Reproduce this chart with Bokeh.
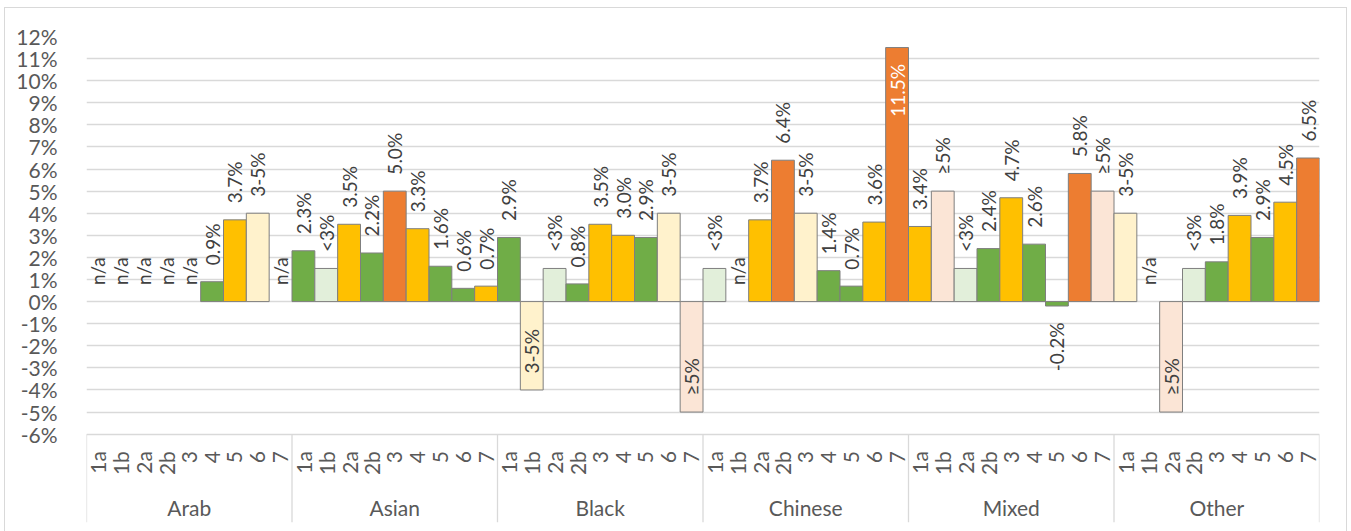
import math

from bokeh.core.properties import value
from bokeh.embed import file_html
from bokeh.models import (ColumnDataSource, FactorRange, FixedTicker,
                          PrintfTickFormatter, Range1d)
from bokeh.plotting import figure
from bokeh.resources import INLINE

# ---- data -------------------------------------------------------------
groups = ["Arab", "Asian", "Black", "Chinese", "Mixed", "Other"]
subs = ["1a", "1b", "2a", "2b", "3", "4", "5", "6", "7"]

# value per sub-category (None = n/a); suppressed bands carry a placeholder height
arab_vals = [None, None, None, None, None, 0.9, 3.7, 4.0, None]
asian_vals = [2.3, 1.5, 3.5, 2.2, 5.0, 3.3, 1.6, 0.6, 0.7]
black_vals = [2.9, -4.0, 1.5, 0.8, 3.5, 3.0, 2.9, 4.0, -5.0]
chinese_vals = [1.5, None, 3.7, 6.4, 4.0, 1.4, 0.7, 3.6, 11.5]
mixed_vals = [3.4, 5.0, 1.5, 2.4, 4.7, 2.6, -0.2, 5.8, 5.0]
other_vals = [4.0, None, -5.0, 1.5, 1.8, 3.9, 2.9, 4.5, 6.5]

# band of each value; "_s" marks a suppressed figure shown only as a range
arab_band = [None, None, None, None, None, "low", "mid", "mid_s", None]
asian_band = ["low", "low_s", "mid", "low", "high", "mid", "low", "low", "mid"]
black_band = ["low", "mid_s", "low_s", "low", "mid", "mid", "low", "mid_s", "high_s"]
chinese_band = ["low_s", None, "mid", "high", "mid_s", "low", "low", "mid", "high"]
mixed_band = ["mid", "high_s", "low_s", "low", "mid", "low", "low", "high", "high_s"]
other_band = ["mid_s", None, "high_s", "low_s", "low", "mid", "low", "mid", "high"]

range_text = {"low_s": "<3%", "mid_s": "3-5%", "high_s": "\u22655%"}

y_ticks = list(range(-6, 13))

# ---- styling ----------------------------------------------------------
band_colors = {
    "low": "#70AD47", "low_s": "#E2EFDA",
    "mid": "#FFC000", "mid_s": "#FFF2CC",
    "high": "#ED7D31", "high_s": "#FBE5D6",
}
FONT = "Lato"
AXIS_TEXT = "#595959"
LABEL_TEXT = "#404040"
GRID = "#D9D9D9"

# the chart sits in a bordered box offset slightly from the page corner
OFF_X, OFF_Y = 4, 7
W, H = 1343, 526
LEFT, RIGHT, TOP, BOTTOM = 81, 29, 28, 12
Y0, Y1 = -10, 12
PPU = (H - TOP - BOTTOM) / (Y1 - Y0)      # pixels per percentage point
GAP = 16.5 / PPU                          # label distance from the bar end
CHAR = 10.8 / PPU                         # rough label length per character

all_vals = [arab_vals, asian_vals, black_vals, chinese_vals, mixed_vals, other_vals]
all_bands = [arab_band, asian_band, black_band, chinese_band, mixed_band, other_band]

bars = dict(x=[], top=[], color=[])
lab_up = dict(x=[], y=[], text=[], color=[])     # text starts at anchor
lab_down = dict(x=[], y=[], text=[], color=[])   # text ends at anchor

for g, vals, bands in zip(groups, all_vals, all_bands):
    for s, v, b in zip(subs, vals, bands):
        key = (g, s)
        if v is None:
            lab_up["x"].append(key)
            lab_up["y"].append(GAP)
            lab_up["text"].append("n/a")
            lab_up["color"].append(LABEL_TEXT)
            continue
        bars["x"].append(key)
        bars["top"].append(v)
        bars["color"].append(band_colors[b])
        txt = range_text.get(b, f"{v:.1f}%")
        length = len(txt) * CHAR
        if v >= 0:
            if v + GAP + length <= Y1:
                lab_up["x"].append(key); lab_up["y"].append(v + GAP)
                lab_up["text"].append(txt); lab_up["color"].append(LABEL_TEXT)
            else:
                lab_down["x"].append(key); lab_down["y"].append(v - GAP)
                lab_down["text"].append(txt); lab_down["color"].append("white")
        else:
            if v - GAP - length >= y_ticks[0]:
                lab_down["x"].append(key); lab_down["y"].append(v - GAP)
                lab_down["text"].append(txt); lab_down["color"].append(LABEL_TEXT)
            else:
                lab_up["x"].append(key); lab_up["y"].append(v + GAP)
                lab_up["text"].append(txt); lab_up["color"].append(LABEL_TEXT)

factors = [(g, s) for g in groups for s in subs]

p = figure(
    width=W, height=H,
    x_range=FactorRange(factors=factors, factor_padding=0, group_padding=0,
                        subgroup_padding=0, range_padding=0),
    y_range=Range1d(Y0, Y1),
    x_axis_location=None,
    output_backend="svg", toolbar_location=None,
    min_border_left=LEFT, min_border_right=RIGHT,
    min_border_top=TOP, min_border_bottom=BOTTOM,
)
p.margin = (OFF_Y, 0, 0, OFF_X)
p.styles = {"border": f"1px solid {GRID}"}
p.outline_line_color = None
p.background_fill_color = "white"
p.border_fill_color = "white"

# value axis
p.yaxis.ticker = FixedTicker(ticks=y_ticks)
p.yaxis.formatter = PrintfTickFormatter(format="%d%%")
p.yaxis.axis_line_color = None
p.yaxis.major_tick_line_color = None
p.yaxis.minor_tick_line_color = None
p.yaxis.major_label_standoff = 23
p.yaxis.major_label_text_font = FONT
p.yaxis.major_label_text_font_size = "21px"
p.yaxis.major_label_text_color = AXIS_TEXT
p.xgrid.visible = False
p.ygrid.ticker = FixedTicker(ticks=y_ticks)
p.ygrid.grid_line_color = GRID
p.ygrid.grid_line_width = 1.3

# bars
p.vbar(x="x", top="top", bottom=0, width=1.0, source=ColumnDataSource(bars),
       fill_color="color", line_color="#7F7F7F", line_width=1)

# value labels
label_kw = dict(angle=math.pi / 2, text_baseline="middle",
                text_font=value(FONT), text_font_size="19px", text_color="color")
p.text(x="x", y="y", text="text", text_align="left",
       source=ColumnDataSource(lab_up), **label_kw)
p.text(x="x", y="y", text="text", text_align="right",
       source=ColumnDataSource(lab_down), **label_kw)

# category axis: sub-category labels, group labels and box lines
axis_y = y_ticks[0]
p.text(x=factors, y=[axis_y - 17 / PPU] * len(factors), text=[s for g in groups for s in subs],
       angle=math.pi / 2, text_align="right", text_baseline="middle",
       text_font=value(FONT), text_font_size="21px", text_color=AXIS_TEXT)
p.text(x=[(g, subs[len(subs) // 2]) for g in groups],
       y=[axis_y - 73.4 / PPU] * len(groups), text=groups,
       text_align="center", text_baseline="middle",
       text_font=value(FONT), text_font_size="21px", text_color=AXIS_TEXT)
sep_x = [(g, subs[0], -0.5) for g in groups] + [(groups[-1], subs[-1], 0.5)]
p.segment(x0=sep_x, x1=sep_x, y0=[axis_y] * len(sep_x), y1=[Y0] * len(sep_x),
          line_color=GRID, line_width=1.3)

open("out.html", "w").write(file_html(p, INLINE))
